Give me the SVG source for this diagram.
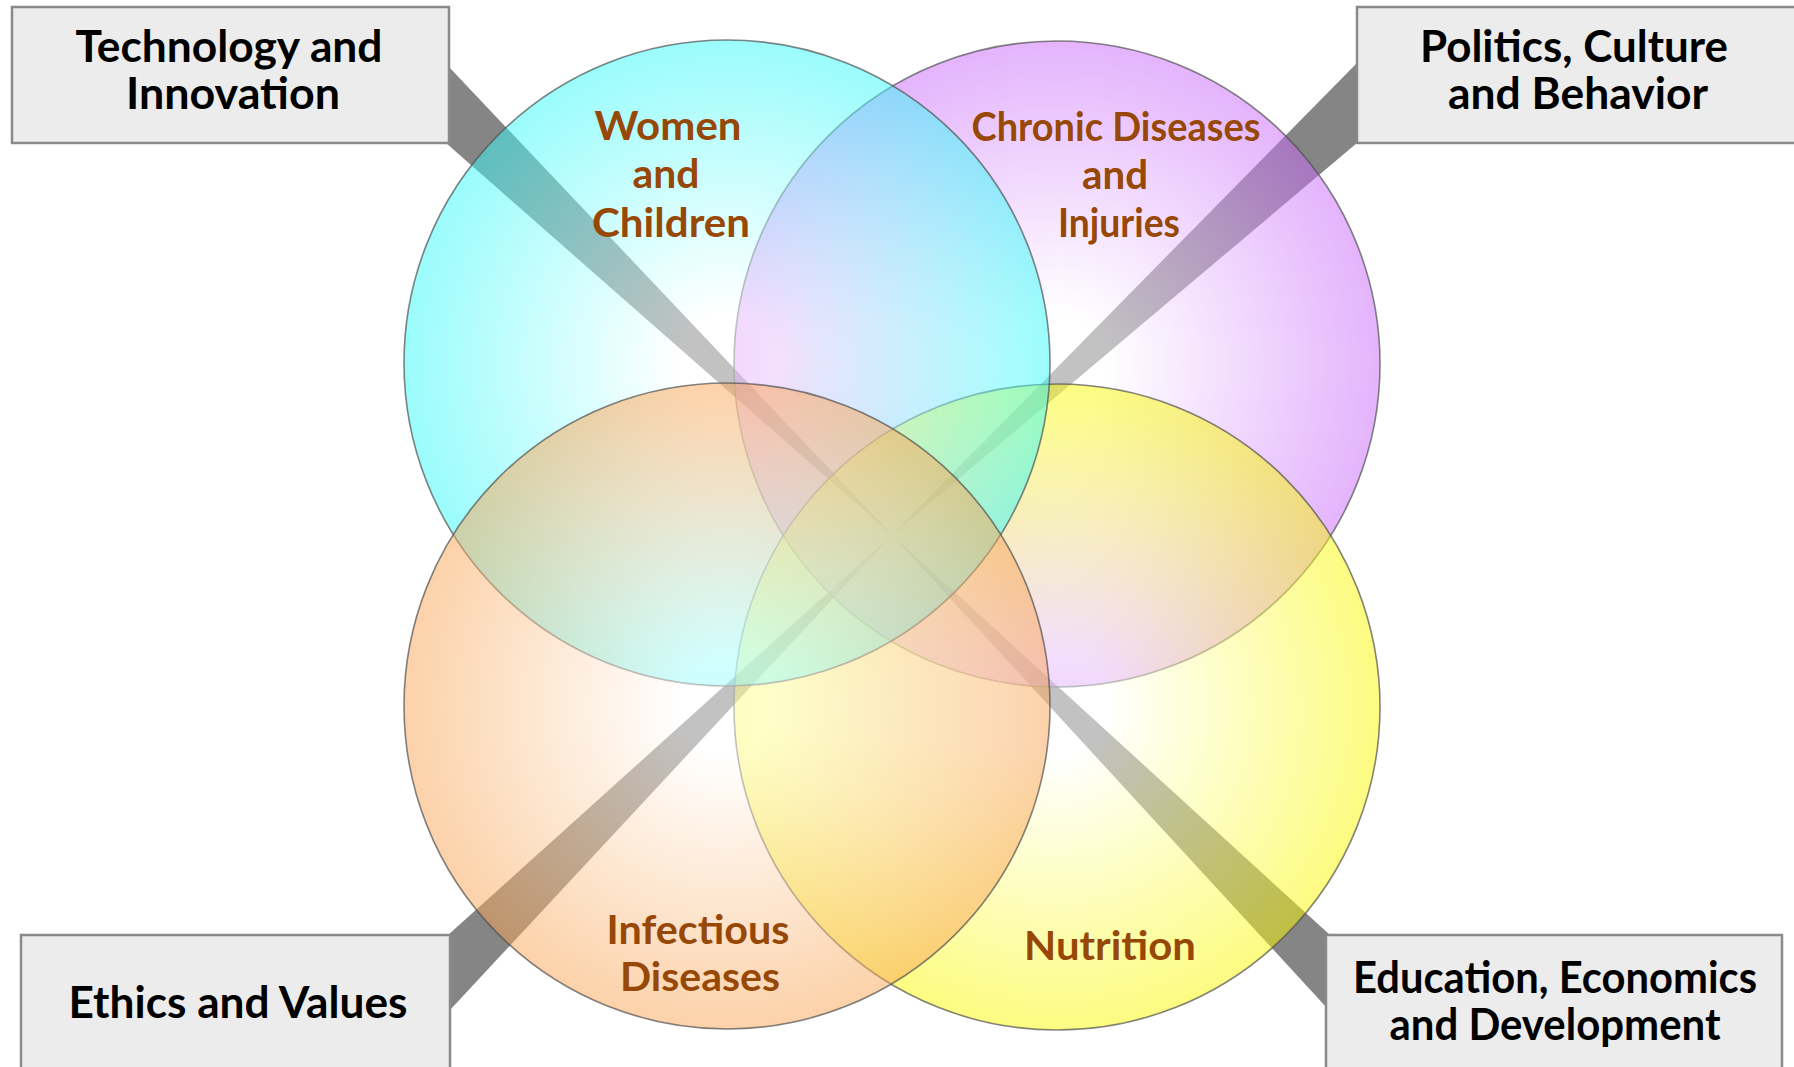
<svg xmlns="http://www.w3.org/2000/svg" width="1794" height="1067" viewBox="0 0 1794 1067">
  <style>
    .box { fill: #ececec; stroke: #8a8a8a; stroke-width: 2.5; }
    .boxtext { font-family: Lato, "Liberation Sans", sans-serif; font-weight: bold; font-size: 44px; fill: #000000; text-anchor: middle; }
    .label { font-family: Lato, "Liberation Sans", sans-serif; font-weight: bold; font-size: 40px; fill: #974806; text-anchor: middle; }
    .ring { stroke: #505050; stroke-width: 1.6; stroke-opacity: 0.7; fill-opacity: 0.5; }
    .wedge { fill: #858585; }
  </style>
  <defs>
    <radialGradient id="gCyan" cx="0.5" cy="0.5" r="0.5">
      <stop offset="0" stop-color="#ffffff"/>
      <stop offset="0.15" stop-color="#ffffff"/>
      <stop offset="1" stop-color="#37f9f9"/>
    </radialGradient>
    <radialGradient id="gPurple" cx="0.5" cy="0.5" r="0.5">
      <stop offset="0" stop-color="#ffffff"/>
      <stop offset="0.15" stop-color="#ffffff"/>
      <stop offset="1" stop-color="#c969f9"/>
    </radialGradient>
    <radialGradient id="gOrange" cx="0.5" cy="0.5" r="0.5">
      <stop offset="0" stop-color="#ffffff"/>
      <stop offset="0.15" stop-color="#ffffff"/>
      <stop offset="1" stop-color="#f9a555"/>
    </radialGradient>
    <radialGradient id="gYellow" cx="0.5" cy="0.5" r="0.5">
      <stop offset="0" stop-color="#ffffff"/>
      <stop offset="0.15" stop-color="#ffffff"/>
      <stop offset="1" stop-color="#f9f905"/>
    </radialGradient>
  </defs>

  <rect x="0" y="0" width="1794" height="1067" fill="#ffffff"/>

  <g id="connectors">
    <polygon class="wedge" points="449,67 892,535 446,143 420,100"/>
    <polygon class="wedge" points="1357,63 892,535 1357,143 1380,100"/>
    <polygon class="wedge" points="448,935 892,535 450,1010 420,990"/>
    <polygon class="wedge" points="1330,935 892,535 1327,1008 1360,990"/>
  </g>

  <g id="chronic-diseases">
    <circle class="ring" cx="1057" cy="364" r="323" fill="url(#gPurple)"/>
    <text class="label" x="1116" y="141" textLength="289" lengthAdjust="spacingAndGlyphs">Chronic Diseases</text>
    <text class="label" x="1115" y="189" textLength="66" lengthAdjust="spacingAndGlyphs">and</text>
    <text class="label" x="1119" y="237" textLength="122" lengthAdjust="spacingAndGlyphs">Injuries</text>
  </g>

  <g id="nutrition">
    <circle class="ring" cx="1057" cy="707" r="323" fill="url(#gYellow)"/>
    <text class="label" x="1110" y="960" textLength="172" lengthAdjust="spacingAndGlyphs">Nutrition</text>
  </g>

  <g id="women-children">
    <circle class="ring" cx="727" cy="363" r="323" fill="url(#gCyan)"/>
    <text class="label" x="668" y="140" textLength="147" lengthAdjust="spacingAndGlyphs">Women</text>
    <text class="label" x="666" y="188" textLength="67" lengthAdjust="spacingAndGlyphs">and</text>
    <text class="label" x="671" y="237" textLength="158" lengthAdjust="spacingAndGlyphs">Children</text>
  </g>

  <g id="infectious-diseases">
    <circle class="ring" cx="727" cy="706" r="323" fill="url(#gOrange)"/>
    <text class="label" x="698" y="944" textLength="183" lengthAdjust="spacingAndGlyphs">Infectious</text>
    <text class="label" x="700" y="991" textLength="160" lengthAdjust="spacingAndGlyphs">Diseases</text>
  </g>

  <g id="technology-innovation">
    <rect class="box" x="12" y="7" width="437" height="136"/>
    <text class="boxtext" x="229" y="62" textLength="307" lengthAdjust="spacingAndGlyphs">Technology and</text>
    <text class="boxtext" x="233" y="109" textLength="214" lengthAdjust="spacingAndGlyphs">Innovation</text>
  </g>

  <g id="politics-culture">
    <rect class="box" x="1357" y="7" width="440" height="136"/>
    <text class="boxtext" x="1574" y="62" textLength="308" lengthAdjust="spacingAndGlyphs">Politics, Culture</text>
    <text class="boxtext" x="1578" y="109" textLength="260" lengthAdjust="spacingAndGlyphs">and Behavior</text>
  </g>

  <g id="ethics-values">
    <rect class="box" x="21" y="935" width="429" height="140"/>
    <text class="boxtext" x="238" y="1018" textLength="339" lengthAdjust="spacingAndGlyphs">Ethics and Values</text>
  </g>

  <g id="education-economics">
    <rect class="box" x="1326" y="935" width="456" height="140"/>
    <text class="boxtext" x="1555" y="993" textLength="404" lengthAdjust="spacingAndGlyphs">Education, Economics</text>
    <text class="boxtext" x="1555" y="1040" textLength="331" lengthAdjust="spacingAndGlyphs">and Development</text>
  </g>
</svg>
